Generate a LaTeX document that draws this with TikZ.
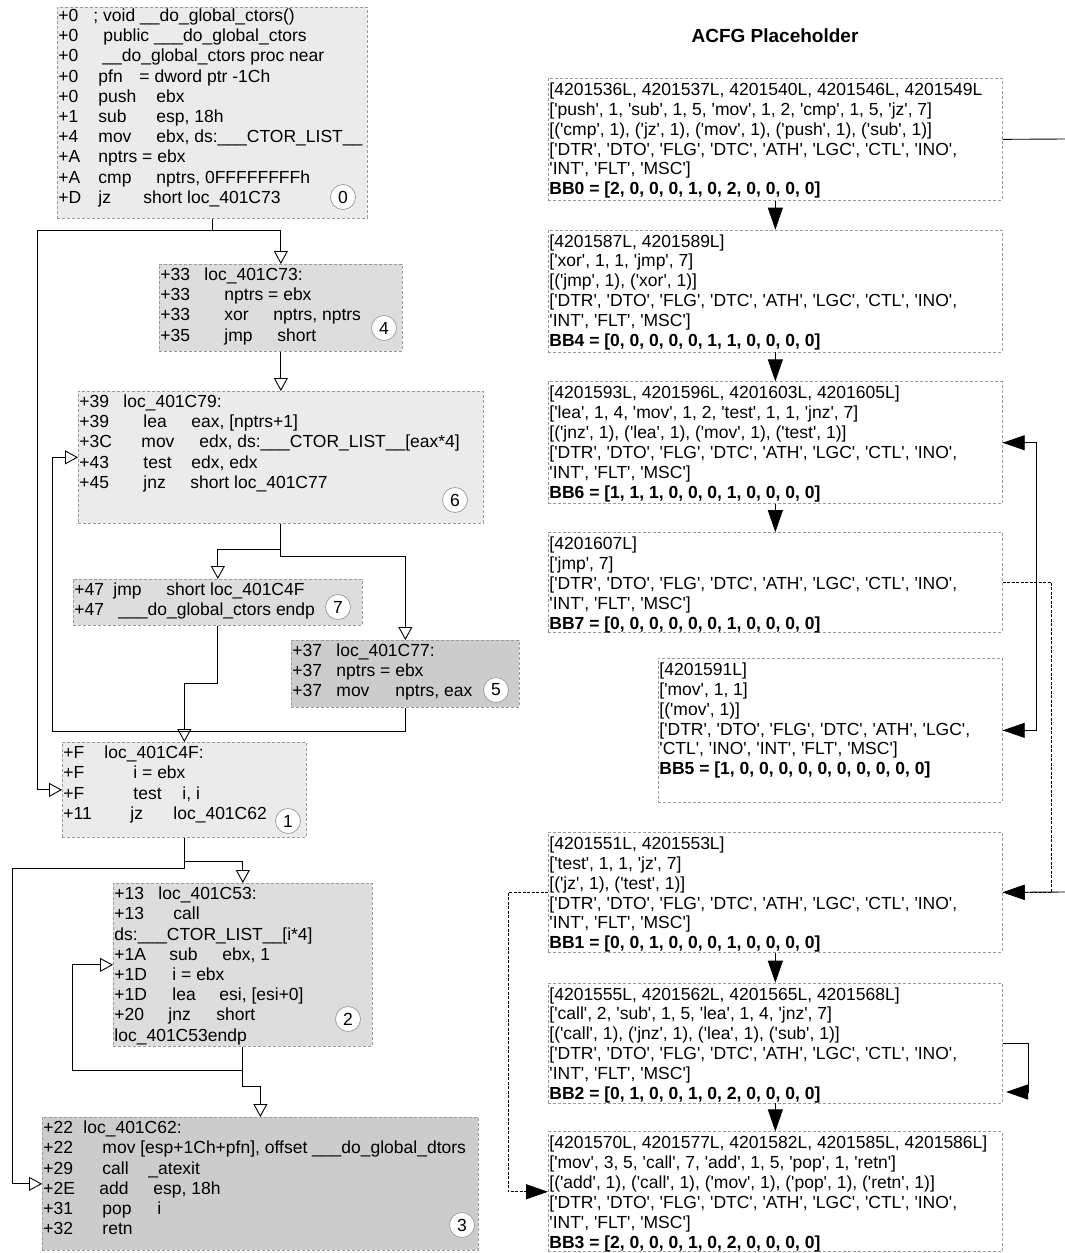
\documentclass[tikz,border=0pt]{standalone}
\usepackage{fontspec}
\newfontfamily\codefont{Liberation Sans}
\usepackage{tikz}
\usetikzlibrary{arrows.meta,positioning}

\definecolor{blkLight}{HTML}{EBEBEB}
\definecolor{blkMid}{HTML}{DDDDDD}
\definecolor{blkDark}{HTML}{CCCCCC}
\definecolor{blkLine}{HTML}{9A9A9A}

\newcommand{\opc}[2][58pt]{\makebox[#1][l]{#2}}
\newcommand{\clsrow}{{[}'DTR', 'DTO', 'FLG', 'DTC', 'ATH', 'LGC', 'CTL', 'INO', \\ 'INT', 'FLT', 'MSC']}

\begin{document}
\begin{tikzpicture}[x=1pt,y=-1pt,line width=0.9pt,
      font=\codefont\fontsize{17.5}{20.2}\selectfont,
      block/.style={draw=blkLine,dash pattern=on 3pt off 2pt,line width=0.7pt,anchor=north west,inner sep=0pt},
      acfg block/.style={block,fill=white,minimum width=454pt},
      code/.style={anchor=north west,inner sep=0pt,xshift=1pt,yshift=-2pt},
      acfg code/.style={anchor=north west,inner sep=0pt,xshift=1pt,yshift=-3pt,
        font=\codefont\fontsize{17.5}{19.9}\selectfont},
      badge/.style={circle,draw=blkLine,fill=white,line width=0.7pt,inner sep=0pt,minimum size=25pt},
      flow/.style={-{Triangle[open,length=13pt,width=14pt]}},
      acfg/.style={-{Triangle[length=22pt,width=15pt]}},
      jump/.style={acfg,dash pattern=on 3pt off 1.5pt}]
  \useasboundingbox (0,0) rectangle (1065,1253);

  % disassembly blocks
  \node[block,fill=blkLight,minimum width=310pt,minimum height=211pt] (b0) at (57,7) {};
  \node[code,yshift=2pt] (b0 code) at (b0.north west) {\begin{tabular}{@{}p{40pt}@{}l@{}}
    +0 & \hspace*{-5pt}; void \_\_do\_global\_ctors() \\
    +0 & \hspace*{5pt}public \_\_\_do\_global\_ctors \\
    +0 & \hspace*{4pt}\_\_do\_global\_ctors proc near \\
    +0 & \opc[41pt]{pfn}= dword ptr -1Ch \\
    +0 & \opc{push}ebx \\
    +1 & \opc{sub}esp, 18h \\
    +4 & \opc{mov}ebx, ds:\_\_\_CTOR\_LIST\_\_ \\
    +A & nptrs = ebx \\
    +A & \opc{cmp}nptrs, 0FFFFFFFFh \\
    +D & \opc[45pt]{jz}short loc\_401C73
  \end{tabular}};
  \node[badge] (c0) at (343,197) {0};

  \node[block,fill=blkMid,minimum width=243pt,minimum height=87pt] (b4) at (159,264) {};
  \node[code] (b4 code) at (b4.north west) {\begin{tabular}{@{}p{44pt}@{}l@{}}
    +33 & loc\_401C73: \\
    +33 & \hspace*{20pt}nptrs = ebx \\
    +33 & \hspace*{20pt}\opc[49pt]{xor}nptrs, nptrs \\
    +35 & \hspace*{20pt}\opc[53pt]{jmp}short
  \end{tabular}};
  \node[badge] (c4) at (384,328) {4};

  \node[block,fill=blkLight,minimum width=405pt,minimum height=132pt] (b6) at (78,391) {};
  \node[code] (b6 code) at (b6.north west) {\begin{tabular}{@{}p{44pt}@{}l@{}}
    +39 & loc\_401C79: \\
    +39 & \hspace*{20pt}\opc[48pt]{lea}eax, [nptrs+1] \\
    +3C & \hspace*{18pt}\opc[58pt]{mov}edx, ds:\_\_\_CTOR\_LIST\_\_[eax*4] \\
    +43 & \hspace*{20pt}\opc[48pt]{test}edx, edx \\
    +45 & \hspace*{20pt}\opc[47pt]{jnz}short loc\_401C77
  \end{tabular}};
  \node[badge] (c6) at (455,500) {6};

  \node[block,fill=blkMid,minimum width=289pt,minimum height=46pt] (b7) at (73,579) {};
  \node[code] (b7 code) at (b7.north west) {\begin{tabular}{@{}p{39pt}@{}l@{}}
    +47 & \opc[53pt]{jmp}short loc\_401C4F \\
    +47 & \hspace*{5pt}\_\_\_do\_global\_ctors endp
  \end{tabular}};
  \node[badge] (c7) at (338,607) {7};

  \node[block,fill=blkDark,minimum width=228pt,minimum height=67pt] (b5) at (291,640) {};
  \node[code] (b5 code) at (b5.north west) {\begin{tabular}{@{}p{44pt}@{}l@{}}
    +37 & loc\_401C77: \\
    +37 & nptrs = ebx \\
    +37 & \opc[59pt]{mov}nptrs, eax
  \end{tabular}};
  \node[badge] (c5) at (496,690) {5};

  \node[block,fill=blkLight,minimum width=244pt,minimum height=95pt] (b1) at (62,742) {};
  \node[code] (b1 code) at (b1.north west) {\begin{tabular}{@{}p{41pt}@{}l@{}}
    +F & loc\_401C4F: \\
    +F & \hspace*{29pt}i = ebx \\
    +F & \hspace*{29pt}\opc[49pt]{test}i, i \\
    +11 & \hspace*{26pt}\opc[43pt]{jz}loc\_401C62
  \end{tabular}};
  \node[badge] (c1) at (288,821) {1};

  \node[block,fill=blkMid,minimum width=259pt,minimum height=163pt] (b2) at (113,883) {};
  \node[code] (b2 code) at (b2.north west) {\begin{tabular}{@{}p{44pt}@{}l@{}}
    +13 & loc\_401C53: \\
    +13 & \hspace*{15pt}call \\
    \multicolumn{2}{@{}l@{}}{ds:\_\_\_CTOR\_LIST\_\_[i*4]} \\
    +1A & \hspace*{11pt}\opc[53pt]{sub}ebx, 1 \\
    +1D & \hspace*{14pt}i = ebx \\
    +1D & \hspace*{14pt}\opc[47pt]{lea}esi, [esi+0] \\
    +20 & \hspace*{10pt}\opc[48pt]{jnz}short \\
    \multicolumn{2}{@{}l@{}}{loc\_401C53endp}
  \end{tabular}};
  \node[badge] (c2) at (348,1019) {2};

  \node[block,fill=blkDark,minimum width=436pt,minimum height=133pt] (b3) at (42,1117) {};
  \node[code] (b3 code) at (b3.north west) {\begin{tabular}{@{}p{40pt}@{}l@{}}
    +22 & loc\_401C62: \\
    +22 & \hspace*{19pt}mov [esp+1Ch+pfn], offset \_\_\_do\_global\_dtors \\
    +29 & \hspace*{19pt}\opc[46pt]{call}\_atexit \\
    +2E & \hspace*{16pt}\opc[54pt]{add}esp, 18h \\
    +31 & \hspace*{19pt}\opc[55pt]{pop}i \\
    +32 & \hspace*{19pt}retn
  \end{tabular}};
  \node[badge] (c3) at (462,1225) {3};

  % turning points of the back edges
  \coordinate (lane0) at (37,230);
  \coordinate (lane1) at (52,731);
  \coordinate (lane2) at (12,868);
  \coordinate (lane3) at (72,1070);

  \draw[flow] (b0.south) -- ++(0,12) -| (b4.north);
  \draw[flow] (b0.south) |- (lane0) |- (b1.west);
  \draw[flow] (b4.south) -- (b6.north);
  \draw[flow] (b6.south) -- ++(0,26) -| (b7.north);
  \draw[flow] (b6.south) -- ++(0,33) -| (b5.north);
  \draw[flow] (b5.south) |- (lane1) |- (b6.west);
  \draw[flow] (b7.south) -- ++(0,58) -| (b1.north);
  \draw[flow] (b1.south) -- ++(0,24) -| (b2.north);
  \draw[flow] (b1.south) |- (lane2) |- (b3.west);
  \draw[flow] (b2.south) |- (lane3) |- (b2.west);
  \draw[flow] (b2.south) -- ++(0,40) -| (b3.north);

  % attributed CFG
  \node[font=\codefont\bfseries\fontsize{19}{23}\selectfont] (title) at (775,36) {ACFG Placeholder};

  \node[acfg block,minimum height=122pt] (a0) at (548,78) {};
  \node[acfg code] (a0 code) at (a0.north west) {\begin{tabular}{@{}l@{}}
    {[}4201536L, 4201537L, 4201540L, 4201546L, 4201549L \\
    {[}'push', 1, 'sub', 1, 5, 'mov', 1, 2, 'cmp', 1, 5, 'jz', 7] \\
    {[}('cmp', 1), ('jz', 1), ('mov', 1), ('push', 1), ('sub', 1)] \\
    \clsrow \\
    \textbf{BB0 = [2, 0, 0, 0, 1, 0, 2, 0, 0, 0, 0]}
  \end{tabular}};

  \node[acfg block,minimum height=122pt,below=29pt of a0] (a4) {};
  \node[acfg code] (a4 code) at (a4.north west) {\begin{tabular}{@{}l@{}}
    {[}4201587L, 4201589L] \\
    {[}'xor', 1, 1, 'jmp', 7] \\
    {[}('jmp', 1), ('xor', 1)] \\
    \clsrow \\
    \textbf{BB4 = [0, 0, 0, 0, 0, 1, 1, 0, 0, 0, 0]}
  \end{tabular}};

  \node[acfg block,minimum height=122pt,below=29pt of a4] (a6) {};
  \node[acfg code] (a6 code) at (a6.north west) {\begin{tabular}{@{}l@{}}
    {[}4201593L, 4201596L, 4201603L, 4201605L] \\
    {[}'lea', 1, 4, 'mov', 1, 2, 'test', 1, 1, 'jnz', 7] \\
    {[}('jnz', 1), ('lea', 1), ('mov', 1), ('test', 1)] \\
    \clsrow \\
    \textbf{BB6 = [1, 1, 1, 0, 0, 0, 1, 0, 0, 0, 0]}
  \end{tabular}};

  \node[acfg block,minimum height=100pt,below=28pt of a6] (a7) {};
  \node[acfg code] (a7 code) at (a7.north west) {\begin{tabular}{@{}l@{}}
    {[}4201607L] \\
    {[}'jmp', 7] \\
    \clsrow \\
    \textbf{BB7 = [0, 0, 0, 0, 0, 0, 1, 0, 0, 0, 0]}
  \end{tabular}};

  \node[acfg block,minimum width=344pt,minimum height=144pt] (a5) at (658,658) {};
  \node[acfg code] (a5 code) at (a5.north west) {\begin{tabular}{@{}l@{}}
    {[}4201591L] \\
    {[}'mov', 1, 1] \\
    {[}('mov', 1)] \\
    {[}'DTR', 'DTO', 'FLG', 'DTC', 'ATH', 'LGC', \\
    'CTL', 'INO', 'INT', 'FLT', 'MSC'] \\
    \textbf{BB5 = [1, 0, 0, 0, 0, 0, 0, 0, 0, 0, 0]}
  \end{tabular}};

  \node[acfg block,minimum height=120pt] (a1) at (548,832) {};
  \node[acfg code] (a1 code) at (a1.north west) {\begin{tabular}{@{}l@{}}
    {[}4201551L, 4201553L] \\
    {[}'test', 1, 1, 'jz', 7] \\
    {[}('jz', 1), ('test', 1)] \\
    \clsrow \\
    \textbf{BB1 = [0, 0, 1, 0, 0, 0, 1, 0, 0, 0, 0]}
  \end{tabular}};

  \node[acfg block,minimum height=120pt,below=30pt of a1] (a2) {};
  \node[acfg code] (a2 code) at (a2.north west) {\begin{tabular}{@{}l@{}}
    {[}4201555L, 4201562L, 4201565L, 4201568L] \\
    {[}'call', 2, 'sub', 1, 5, 'lea', 1, 4, 'jnz', 7] \\
    {[}('call', 1), ('jnz', 1), ('lea', 1), ('sub', 1)] \\
    \clsrow \\
    \textbf{BB2 = [0, 1, 0, 0, 1, 0, 2, 0, 0, 0, 0]}
  \end{tabular}};

  \node[acfg block,minimum height=120pt,below=28pt of a2] (a3) {};
  \node[acfg code] (a3 code) at (a3.north west) {\begin{tabular}{@{}l@{}}
    {[}4201570L, 4201577L, 4201582L, 4201585L, 4201586L] \\
    {[}'mov', 3, 5, 'call', 7, 'add', 1, 5, 'pop', 1, 'retn'] \\
    {[}('add', 1), ('call', 1), ('mov', 1), ('pop', 1), ('retn', 1)] \\
    \clsrow \\
    \textbf{BB3 = [2, 0, 0, 0, 1, 0, 2, 0, 0, 0, 0]}
  \end{tabular}};

  % edges leaving the picture on the right
  \coordinate (out0) at (1065,139);
  \coordinate (in1) at (1065,892);
  \coordinate (loop2) at (1006,1092);

  \draw[acfg] (a0.south) -- (a4.north);
  \draw[acfg] (a4.south) -- (a6.north);
  \draw[acfg] (a6.south) -- (a7.north);
  \draw[acfg] (a1.south) -- (a2.north);
  \draw[acfg] (a2.south) -- (a3.north);
  \draw (a0.east) -- (out0);
  \draw[acfg] (in1) -- (a1.east);
  \draw[acfg] (a6.east) -- ++(34,0) |- (a5.east);
  \draw[acfg] (a5.east) -- ++(34,0) |- (a6.east);
  \draw[jump] (a7.east) -- ++(49,0) |- (a1.east);
  \draw[jump] (a1.west) -- ++(-40,0) |- (a3.west);
  \draw[acfg] (a2.east) -- ++(26,0) |- (loop2);
\end{tikzpicture}
\end{document}
